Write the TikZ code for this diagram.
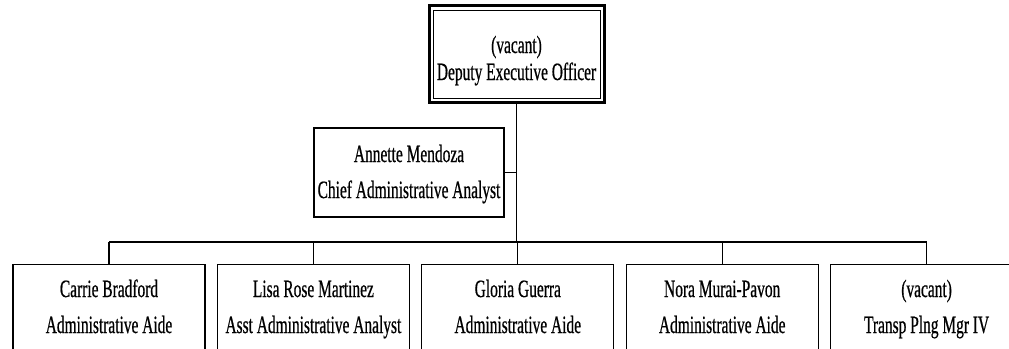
\documentclass[tikz,border=0pt]{standalone}
\usepackage{fontspec}
\setmainfont[FakeStretch=0.62,FakeBold=0.6]{Liberation Serif}
\begin{document}
\begin{tikzpicture}[x=1bp,y=-1bp,
  box/.style={draw,line width=1.3bp,rectangle,inner sep=0pt},
  lbl/.style={anchor=base,inner sep=0pt,font=\fontsize{25}{30}\selectfont},
  conn/.style={line width=1.1bp}]
\useasboundingbox (0,0) rectangle (1009,348);
\clip (0,0) rectangle (1009,348);
% top box (double frame)
\node[box,line width=3bp,minimum width=175bp,minimum height=97bp] (top) at (516.5,53.5) {};
\node[box,line width=0.9bp,minimum width=167bp,minimum height=88bp] (topin) at (516.5,54) {};
\node[lbl] (topt1) at (516.5,53) {(vacant)};
\node[lbl] (topt2) at (516.5,80) {Deputy Executive Officer};
% staff box
\node[box,minimum width=190bp,minimum height=89bp] (ann) at (409,172.5) {};
\node[lbl] (annt1) at (409,162) {Annette Mendoza};
\node[lbl] (annt2) at (409,198) {Chief Administrative Analyst};
% bottom boxes
\foreach \i/\x/\a/\b in {1/109/Carrie Bradford/Administrative Aide,
  2/313.4/Lisa Rose Martinez/Asst Administrative Analyst,
  3/517.8/Gloria Guerra/Administrative Aide,
  4/722.2/Nora Murai-Pavon/Administrative Aide,
  5/926.6/(vacant)/Transp Plng Mgr IV}{
  \node[box,anchor=north,minimum width=192bp,minimum height=110bp] (b\i) at (\x,264) {};
  \node[lbl] (b\i t1) at (\x,297) {\a};
  \node[lbl] (b\i t2) at (\x,333) {\b};
}
\coordinate (bus) at (517,242);
% connectors
\draw[conn] (top.south) -- (top.south |- bus);
\draw[conn] (ann.east) -- (ann.east -| top.south);
\draw[conn] (b1.north |- bus) -- (b5.north |- bus);
\foreach \i in {1,...,5}{
  \draw[conn] (b\i.north) -- (b\i.north |- bus);
}
\end{tikzpicture}
\end{document}
